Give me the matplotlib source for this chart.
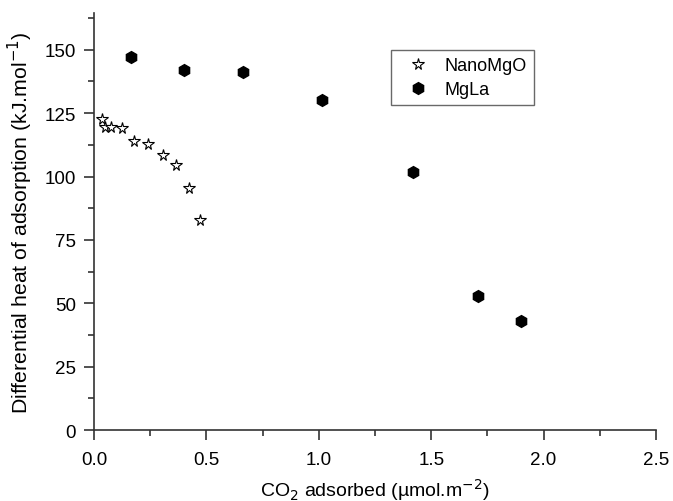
import numpy as np
import matplotlib.pyplot as plt

plt.rcParams['font.family'] = ['Liberation Sans', 'DejaVu Sans']

# NanoMgO series
nano_x = [0.034, 0.049, 0.076, 0.123, 0.178, 0.239, 0.305, 0.366, 0.423, 0.470]
nano_y = [122.8, 119.7, 119.7, 119.3, 114.1, 112.8, 108.6, 104.7, 95.6, 82.9]

# MgLa series
mgla_x = [0.163, 0.399, 0.663, 1.013, 1.421, 1.707, 1.899]
mgla_y = [147.2, 142.0, 141.2, 130.3, 101.7, 52.8, 42.9]

fig = plt.figure(figsize=(6.73, 5.02), dpi=100)
ax = fig.add_axes([0.1397, 0.1414, 0.835, 0.8306])

ax.plot(nano_x, nano_y, linestyle='none', marker='*', markersize=8.5,
        markerfacecolor='white', markeredgecolor='black', markeredgewidth=0.8,
        label='NanoMgO')
ax.plot(mgla_x, mgla_y, linestyle='none', marker='h', markersize=8.5,
        markerfacecolor='black', markeredgecolor='black', label='MgLa')

ax.set_xlim(0, 2.5)
ax.set_ylim(0, 164.5)
ax.set_xticks(np.arange(0, 2.51, 0.5))
ax.set_xticks(np.arange(0.25, 2.5, 0.5), minor=True)
ax.set_yticks(np.arange(0, 151, 25))
ax.set_yticks(np.arange(12.5, 164, 25), minor=True)
ax.xaxis.set_major_formatter(plt.FormatStrFormatter('%.1f'))

for s in ['top', 'right']:
    ax.spines[s].set_visible(False)
for s in ['left', 'bottom']:
    ax.spines[s].set_linewidth(1.2)
    ax.spines[s].set_color('#333333')

ax.tick_params(which='major', direction='out', length=7, width=1.2, labelsize=13.5,
               colors='#333333', labelcolor='black')
ax.tick_params(axis='x', which='major', pad=8)
ax.tick_params(axis='y', which='major', pad=6)
ax.tick_params(which='minor', direction='out', length=4, width=1.2, colors='#333333')

ax.set_xlabel('CO$_2$ adsorbed (µmol.m$^{-2}$)', fontsize=14, labelpad=6)
ax.set_ylabel('Differential heat of adsorption (kJ.mol$^{-1}$)', fontsize=15.3, labelpad=7)

leg = ax.legend(loc='upper left', bbox_to_anchor=(0.528, 0.911), borderaxespad=0,
                fontsize=13, frameon=True, fancybox=False, edgecolor='#444444',
                handlelength=2.2, handletextpad=0.4, borderpad=0.4, labelspacing=0.38)
leg.get_frame().set_linewidth(1.0)

fig.savefig('out.png', dpi=100)
